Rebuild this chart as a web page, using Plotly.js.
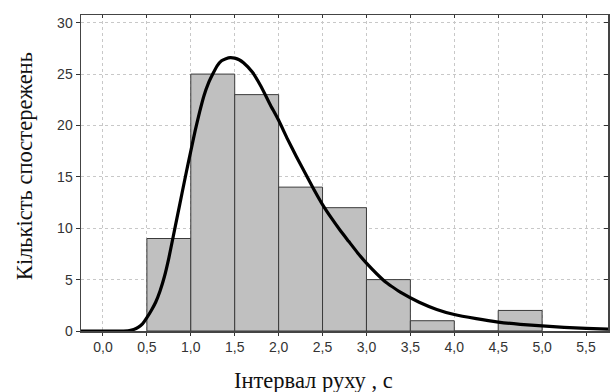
<!DOCTYPE html>
<html>
<head>
<meta charset="utf-8">
<script src="https://cdn.plot.ly/plotly-3.0.1.min.js"></script>
<style>html,body{margin:0;padding:0;background:#fff;}#chart{width:611px;height:392px;}</style>
</head>
<body>
<div id="chart"></div>
<script>
// Histogram bins (centres) and counts
const binCenters = [0.75, 1.25, 1.75, 2.25, 2.75, 3.25, 3.75, 4.25, 4.75];
const binCounts  = [9, 25, 23, 14, 12, 5, 1, 0, 2];
// Fitted curve, points
const curveX = [-0.25, 0.0, 0.2, 0.3, 0.35, 0.4, 0.45, 0.5, 0.55, 0.6, 0.65, 0.7, 0.75, 0.8, 0.85, 0.9, 0.95, 1.0, 1.05, 1.1, 1.15, 1.2, 1.25, 1.3, 1.35, 1.4, 1.45, 1.5, 1.55, 1.6, 1.7, 1.8, 1.9, 2.0, 2.1, 2.2, 2.3, 2.4, 2.5, 2.6, 2.7, 2.8, 2.9, 3.0, 3.2, 3.4, 3.6, 3.8, 4.0, 4.25, 4.5, 4.75, 5.0, 5.25, 5.5, 5.75];
const curveY = [0, 0, 0, 0.05, 0.15, 0.35, 0.7, 1.3, 2.0, 2.8, 3.9, 5.3, 7.1, 9.2, 11.3, 13.4, 15.5, 17.5, 19.5, 21.3, 22.9, 24.1, 25.0, 25.8, 26.3, 26.5, 26.6, 26.55, 26.4, 26.1, 25.2, 23.8, 22.1, 20.5, 18.7, 17.0, 15.4, 13.8, 12.3, 11.0, 9.8, 8.7, 7.6, 6.6, 4.9, 3.7, 2.8, 2.1, 1.6, 1.2, 0.87, 0.65, 0.5, 0.35, 0.25, 0.18];
const xTicks = [0, 0.5, 1, 1.5, 2, 2.5, 3, 3.5, 4, 4.5, 5, 5.5];
const yTicks = [0, 5, 10, 15, 20, 25, 30];
const xTitle = 'Інтервал руху , с';
const yTitle = 'Кількість спостережень';

const traces = [
  {type: 'bar', x: binCenters, y: binCounts, width: 0.5,
   marker: {color: '#c0c0c0', line: {color: '#3a3a3a', width: 1}}, hoverinfo: 'x+y'},
  {type: 'scatter', mode: 'lines', x: curveX, y: curveY, line: {color: '#000', width: 3.2, shape: 'spline', smoothing: 0.4}},
  {type: 'scatter', mode: 'lines', x: [0], y: [0], xaxis: 'x2', yaxis: 'y2', line: {width: 0}, hoverinfo: 'skip', showlegend: false}
];

const tickFont = {family: 'Liberation Sans, Arial, sans-serif', size: 14, color: '#333'};
const titleFont = {family: 'Liberation Serif, Times New Roman, serif', size: 22.5, color: '#111'};
const layout = {
  width: 611, height: 392,
  margin: {l: 81, r: 3, t: 15, b: 61},
  paper_bgcolor: '#fff', plot_bgcolor: '#fff',
  showlegend: false,
  separators: ', ',
  bargap: 0,
  xaxis: {range: [-0.25, 5.75], tickvals: xTicks, tickformat: '.1f', ticks: 'outside', ticklen: 3, tickcolor: '#333',
          showgrid: true, gridcolor: '#c8c8c8', griddash: 'dot', gridwidth: 1, zeroline: false,
          showline: true, linecolor: '#444', linewidth: 1.5, tickfont: tickFont},
  yaxis: {range: [0, 30.75], tickvals: yTicks, ticks: 'outside', ticklen: 4, tickcolor: '#333',
          showgrid: true, gridcolor: '#c8c8c8', griddash: 'dot', gridwidth: 1, zeroline: false,
          showline: true, linecolor: '#444', linewidth: 1.5, tickfont: tickFont},
  xaxis2: {overlaying: 'x', side: 'top', matches: 'x', range: [-0.25, 5.75], tickvals: xTicks, ticks: 'inside', ticklen: 3, tickcolor: '#333',
           showticklabels: false, showgrid: false, zeroline: false, showline: true, linecolor: '#444', linewidth: 1.5},
  yaxis2: {overlaying: 'y', side: 'right', matches: 'y', range: [0, 30.75], tickvals: yTicks, ticks: 'inside', ticklen: 4, tickcolor: '#333',
           showticklabels: false, showgrid: false, zeroline: false, showline: true, linecolor: '#444', linewidth: 1.5},
  annotations: [
    {text: xTitle, xref: 'paper', yref: 'paper', x: 0.442, y: -0.157, xanchor: 'center', yanchor: 'middle', showarrow: false, font: titleFont, borderpad: 0},
    {text: yTitle, xref: 'paper', yref: 'paper', x: -0.108, y: 0.522, xanchor: 'center', yanchor: 'middle', textangle: -90, showarrow: false, font: titleFont, borderpad: 0}
  ]
};
Plotly.newPlot('chart', traces, layout, {displayModeBar: false, staticPlot: true});
</script>
</body>
</html>
